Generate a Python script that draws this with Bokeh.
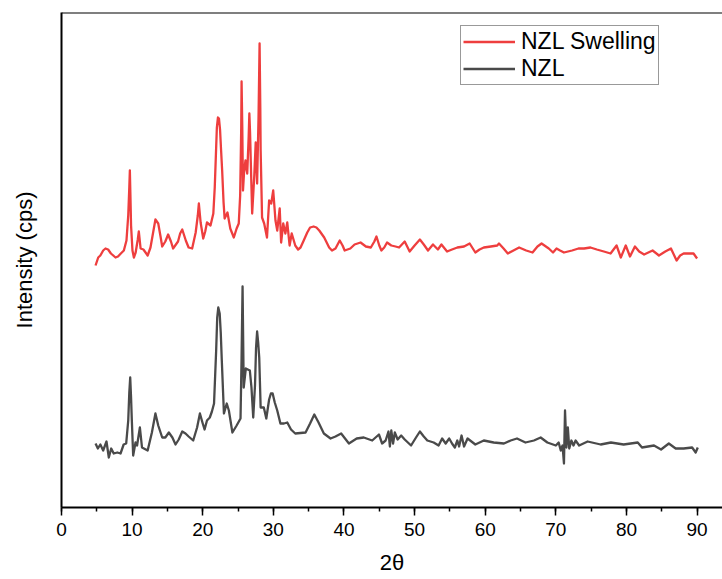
from bokeh.plotting import figure
from bokeh.models import Legend, LegendItem, Span, SingleIntervalTicker, FixedTicker, Range1d
from bokeh.embed import file_html
from bokeh.resources import INLINE

# NZL Swelling (offset trace), 2theta and intensity
swell_2theta = [4.82, 5.2, 5.5, 5.9, 6.23, 6.6, 7.0, 7.65, 8.0, 8.4, 8.83, 9.2, 9.45, 9.6, 9.68, 9.75, 9.85,
                10.05, 10.25, 10.5, 10.8, 10.95, 11.2, 11.6, 12.2, 12.6, 12.9, 13.3, 13.7, 14.0, 14.26, 14.7,
                15.1, 15.5, 15.8, 16.5, 16.8, 17.1, 17.6, 18.0, 18.5, 19.0, 19.3, 19.45, 19.7, 20.07, 20.35,
                20.6, 21.1, 21.5, 21.7, 21.85, 22.0, 22.15, 22.3, 22.45, 22.6, 22.75, 22.95, 23.1, 23.3,
                23.5, 23.9, 24.4, 24.8, 25.1, 25.3, 25.45, 25.5, 25.6, 25.7, 25.85, 26.05, 26.3, 26.5, 26.6,
                26.7, 26.8, 27.0, 27.3, 27.5, 27.7, 27.9, 28.05, 28.15, 28.2, 28.4, 28.7, 29.1, 29.4, 29.7,
                29.98, 30.3, 30.55, 30.9, 31.1, 31.4, 31.7, 31.97, 32.3, 32.6, 33.1, 33.5, 33.85, 34.3, 34.8,
                35.2, 35.7, 36.1, 36.5, 37.2, 37.9, 38.3, 38.8, 39.4, 39.8, 40.1, 40.5, 40.9, 41.5, 42.35,
                43.1, 43.8, 44.3, 44.6, 45.0, 45.3, 45.7, 46.1, 46.7, 47.3, 47.8, 48.2, 48.6, 49.3, 50.0,
                50.75, 51.3, 51.9, 52.6, 53.3, 53.8, 54.6, 55.3, 56.05, 57.0, 57.8, 58.6, 59.2, 59.8, 60.8,
                61.7, 61.95, 62.6, 63.2, 64.0, 64.8, 65.8, 66.7, 67.4, 67.98, 69.0, 69.6, 70.1, 70.6, 71.15,
                72.3, 73.2, 74.0, 74.9, 75.8, 76.8, 77.75, 78.6, 79.2, 79.9, 80.5, 81.2, 81.8, 82.5, 83.7,
                84.6, 85.5, 86.3, 87.1, 87.6, 88.1, 88.8, 89.5, 90.0]
swell_int = [242, 250, 252, 257, 259, 258, 254, 250, 251, 254, 257, 267, 292, 320, 337, 315, 282,
             257, 250, 255, 268, 276, 259, 258, 252, 260, 272, 288, 284, 272, 261, 266,
             273, 266, 259, 266, 274, 278, 267, 260, 259, 275, 292, 304, 285, 269, 276,
             285, 282, 294, 320, 350, 380, 390, 389, 378, 357, 337, 305, 289, 292,
             295, 279, 270, 279, 284, 312, 380, 426, 380, 317, 335, 347, 334, 370, 394,
             375, 347, 294, 332, 365, 324, 390, 464, 400, 357, 290, 284, 270, 307, 304,
             317, 287, 277, 299, 265, 284, 274, 285, 262, 274, 262, 258, 260, 267, 275,
             280, 281, 280, 277, 270, 260, 257, 259, 267, 262, 257, 258, 259, 263, 265,
             261, 260, 266, 271, 262, 257, 260, 265, 262, 261, 260, 263, 266, 256, 262,
             268, 263, 257, 263, 258, 263, 256, 258, 260, 261, 264, 255, 258, 260, 261,
             262, 264, 259, 254, 257, 260, 257, 255, 261, 264, 259, 255, 259, 257, 255,
             257, 259, 259, 260, 258, 256, 254, 262, 250, 262, 251, 261, 256, 253, 257,
             252, 256, 259, 247, 252, 254, 254, 254, 249]

# NZL trace
nzl_2theta = [4.82, 5.15, 5.5, 5.9, 6.37, 6.7, 7.04, 7.4, 7.9, 8.36, 8.8, 9.16, 9.45, 9.6, 9.73, 9.85,
              9.96, 10.15, 10.48, 10.7, 11.1, 11.4, 12.2, 12.8, 13.3, 13.7, 14.26, 14.7, 15.2, 15.7,
              16.15, 16.6, 17.1, 17.56, 18.0, 18.65, 19.2, 19.6, 20.0, 20.26, 20.6, 21.0, 21.3, 21.6,
              21.9, 22.05, 22.2, 22.4, 22.55, 22.7, 23.0, 23.4, 23.7, 24.2, 24.8, 25.35, 25.5, 25.64,
              25.8, 26.1, 26.67, 26.9, 27.15, 27.4, 27.55, 27.7, 27.85, 28.0, 28.2, 28.65, 29.0, 29.4,
              29.65, 29.9, 30.2, 30.55, 31.0, 31.5, 31.97, 32.5, 33.1, 34.56, 35.2, 35.8, 36.4, 37.15,
              38.1, 38.8, 39.6, 40.7, 41.8, 42.8, 44.0, 44.95, 45.4, 45.9, 46.3, 46.5, 46.7, 46.95, 47.2,
              47.6, 48.1, 48.6, 49.5, 50.2, 50.75, 51.3, 51.8, 52.7, 53.4, 53.9, 54.4, 54.9, 55.3, 55.7,
              56.05, 56.3, 56.65, 57.0, 57.5, 58.6, 59.8, 61.2, 62.65, 63.6, 64.5, 65.7, 66.9, 67.85,
              68.8, 70.0, 70.4, 70.7, 70.95, 71.15, 71.3, 71.5, 71.7, 71.9, 72.2, 72.5, 72.8, 73.3, 74.5,
              76.35, 77.8, 79.6, 81.6, 82.2, 83.9, 84.9, 86.0, 86.97, 88.1, 89.3, 89.8, 90.1]
nzl_int = [64, 59, 63, 57, 66, 50, 59, 54, 55, 54, 63, 64, 87, 115, 130, 110,
           87, 52, 65, 62, 80, 60, 57, 75, 94, 82, 70, 70, 75, 70,
           63, 68, 76, 74, 71, 67, 80, 94, 84, 78, 87, 90, 96, 104,
           157, 190, 200, 194, 175, 147, 94, 104, 97, 75, 82, 89, 150, 221,
           120, 139, 137, 120, 90, 122, 160, 176, 165, 150, 100, 100, 89, 108,
           114, 114, 105, 97, 84, 84, 85, 78, 74, 75, 84, 93, 85, 74,
           69, 71, 74, 64, 69, 70, 67, 73, 64, 67, 76, 61, 77, 64, 75,
           68, 72, 68, 62, 70, 76, 71, 67, 65, 62, 69, 64, 69, 64, 60,
           67, 61, 72, 61, 69, 63, 67, 65, 64, 67, 69, 65, 67, 70,
           65, 62, 65, 57, 62, 44, 97, 60, 80, 59, 67, 62, 67, 62, 66,
           63, 65, 63, 65, 60, 62, 58, 64, 59, 59, 60, 55, 60]

x_ticks_interval = 10
series_names = ["NZL Swelling", "NZL"]
x_title = "2θ"
y_title = "Intensity (cps)"

FONT = "Liberation Sans"

p = figure(width=722, height=579, output_backend="svg", toolbar_location=None,
           x_range=Range1d(0, 93.6), y_range=Range1d(0, 495),
           min_border_left=61, min_border_right=0, min_border_top=12, min_border_bottom=72,
           background_fill_color="white", border_fill_color="white")
p.outline_line_color = None
p.xgrid.grid_line_color = None
p.ygrid.grid_line_color = None

r1 = p.line(swell_2theta, swell_int, line_color="#EE3E3E", line_width=2.3, line_join="round")
r2 = p.line(nzl_2theta, nzl_int, line_color="#4A4A4A", line_width=2.3, line_join="round")

xa = p.xaxis[0]
xa.ticker = SingleIntervalTicker(interval=x_ticks_interval, num_minor_ticks=2)
xa.axis_line_color = "black"
xa.axis_line_width = 2
xa.major_tick_line_color = "black"
xa.major_tick_line_width = 1.5
xa.major_tick_out = 8
xa.major_tick_in = 0
xa.minor_tick_line_color = "black"
xa.minor_tick_line_width = 1.5
xa.minor_tick_out = 4
xa.minor_tick_in = 0
xa.major_label_text_font = FONT
xa.major_label_text_font_size = "19px"
xa.major_label_text_color = "black"
xa.major_label_standoff = 7
xa.axis_label = x_title
xa.axis_label_text_font = FONT
xa.axis_label_text_font_size = "22px"
xa.axis_label_text_font_style = "normal"
xa.axis_label_text_color = "black"
xa.axis_label_standoff = 11

ya = p.yaxis[0]
ya.ticker = FixedTicker(ticks=[])
ya.axis_line_color = "black"
ya.axis_line_width = 2
ya.major_tick_out = 0
ya.major_tick_in = 0
ya.minor_tick_out = 0
ya.minor_tick_in = 0
ya.major_label_standoff = 0
ya.axis_label = y_title
ya.axis_label_text_font = FONT
ya.axis_label_text_font_size = "22px"
ya.axis_label_text_font_style = "normal"
ya.axis_label_text_color = "black"
ya.axis_label_standoff = 25

top_line = Span(location=495, dimension="width", line_color="black", line_width=2)
p.add_layout(top_line)

legend = Legend(items=[LegendItem(label=series_names[0], renderers=[r1]),
                       LegendItem(label=series_names[1], renderers=[r2])],
                location=(399, 422), margin=0, padding=2, spacing=0,
                glyph_width=52, glyph_height=27, label_height=27, label_standoff=6,
                label_text_font=FONT, label_text_font_size="23px", label_text_color="black",
                border_line_color="#333333", border_line_width=1,
                background_fill_color="white", background_fill_alpha=1.0)
p.add_layout(legend)

open("out.html", "w").write(file_html(p, INLINE))
